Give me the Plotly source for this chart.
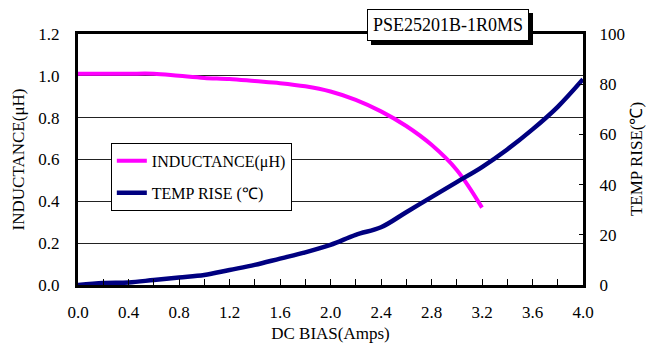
import plotly.graph_objects as go

bias_l = [0.0, 0.2, 0.4, 0.6, 0.8, 1.0, 1.2, 1.4, 1.6, 1.8, 2.0, 2.2, 2.4, 2.6, 2.8, 3.0, 3.2]
inductance = [1.01, 1.01, 1.01, 1.01, 1.0, 0.99, 0.985, 0.975, 0.965, 0.95, 0.925, 0.885, 0.83, 0.76, 0.67, 0.55, 0.37]

bias_t = [0.0, 0.2, 0.4, 0.6, 0.8, 1.0, 1.2, 1.4, 1.6, 1.8, 2.0, 2.2, 2.4, 2.6, 2.8, 3.0, 3.2, 3.4, 3.6, 3.8, 4.0]
temp_rise = [0, 0.8, 1, 2, 3, 4, 6, 8, 10.5, 13, 16, 20, 23, 29, 35, 41, 47, 54, 62, 71, 82]

FONT = "Liberation Serif, Times New Roman, serif"

fig = go.Figure()
fig.add_trace(go.Scatter(x=bias_l, y=inductance, mode="lines", name="INDUCTANCE(μH)",
                         line=dict(color="#FF00FF", width=4, shape="spline"),
                         legendgroup="a", yaxis="y"))
fig.add_trace(go.Scatter(x=bias_t, y=temp_rise, mode="lines", name="TEMP RISE (℃)",
                         line=dict(color="#000080", width=4.5, shape="spline"),
                         legendgroup="b", yaxis="y2"))

fig.update_layout(
    width=647, height=349,
    margin=dict(l=78, r=64, t=34, b=64, autoexpand=False),
    paper_bgcolor="white", plot_bgcolor="white",
    font=dict(family=FONT, size=16, color="black"),
    showlegend=True,
    legend=dict(x=0.065, y=0.566, xanchor="left", yanchor="top",
                bgcolor="white", bordercolor="black", borderwidth=1,
                font=dict(family=FONT, size=16), tracegroupgap=8,
                traceorder="grouped"),
    xaxis=dict(range=[0, 4], dtick=0.4, tick0=0, tickformat=".1f",
               showgrid=False, zeroline=False, automargin=False,
               showline=True, linecolor="black", linewidth=2.5, mirror=True,
               ticks="inside", ticklen=6, tickcolor="black",
               minor=dict(dtick=0.2, ticks="inside", ticklen=6, tickcolor="black"),
               tickfont=dict(size=17), ticklabelstandoff=10,
               title=dict(text="DC BIAS(Amps)", font=dict(size=17), standoff=6)),
    yaxis=dict(range=[0, 1.2], dtick=0.2, tickformat=".1f", automargin=False,
               showgrid=True, gridcolor="#222", gridwidth=1, zeroline=False,
               showline=True, linecolor="black", linewidth=3,
               ticks="", tickfont=dict(size=17), ticklabelstandoff=12,
               title=dict(text="INDUCTANCE(μH)", font=dict(size=17), standoff=10)),
    yaxis2=dict(range=[0, 100], dtick=20, overlaying="y", side="right", automargin=False,
                showgrid=False, zeroline=False,
                showline=True, linecolor="black", linewidth=3,
                ticks="inside", ticklen=4, tickcolor="black",
                tickfont=dict(size=17), ticklabelstandoff=10),
)

fig.add_annotation(x=1.106, y=0.5, xref="paper", yref="paper", text="TEMP RISE(℃)",
                   textangle=-90, showarrow=False, font=dict(family=FONT, size=17),
                   xanchor="center", yanchor="middle")

# title box with shadow
for shadow in (True, False):
    fig.add_annotation(x=0.733, y=1.036, xref="paper", yref="paper", text="PSE25201B-1R0MS",
                       showarrow=False, font=dict(family=FONT, size=18, color="black"),
                       xanchor="center", yanchor="middle",
                       bgcolor="black" if shadow else "white",
                       bordercolor="black", borderwidth=1, borderpad=5,
                       xshift=4 if shadow else 0, yshift=-4 if shadow else 0)

fig.write_html("out.html")
